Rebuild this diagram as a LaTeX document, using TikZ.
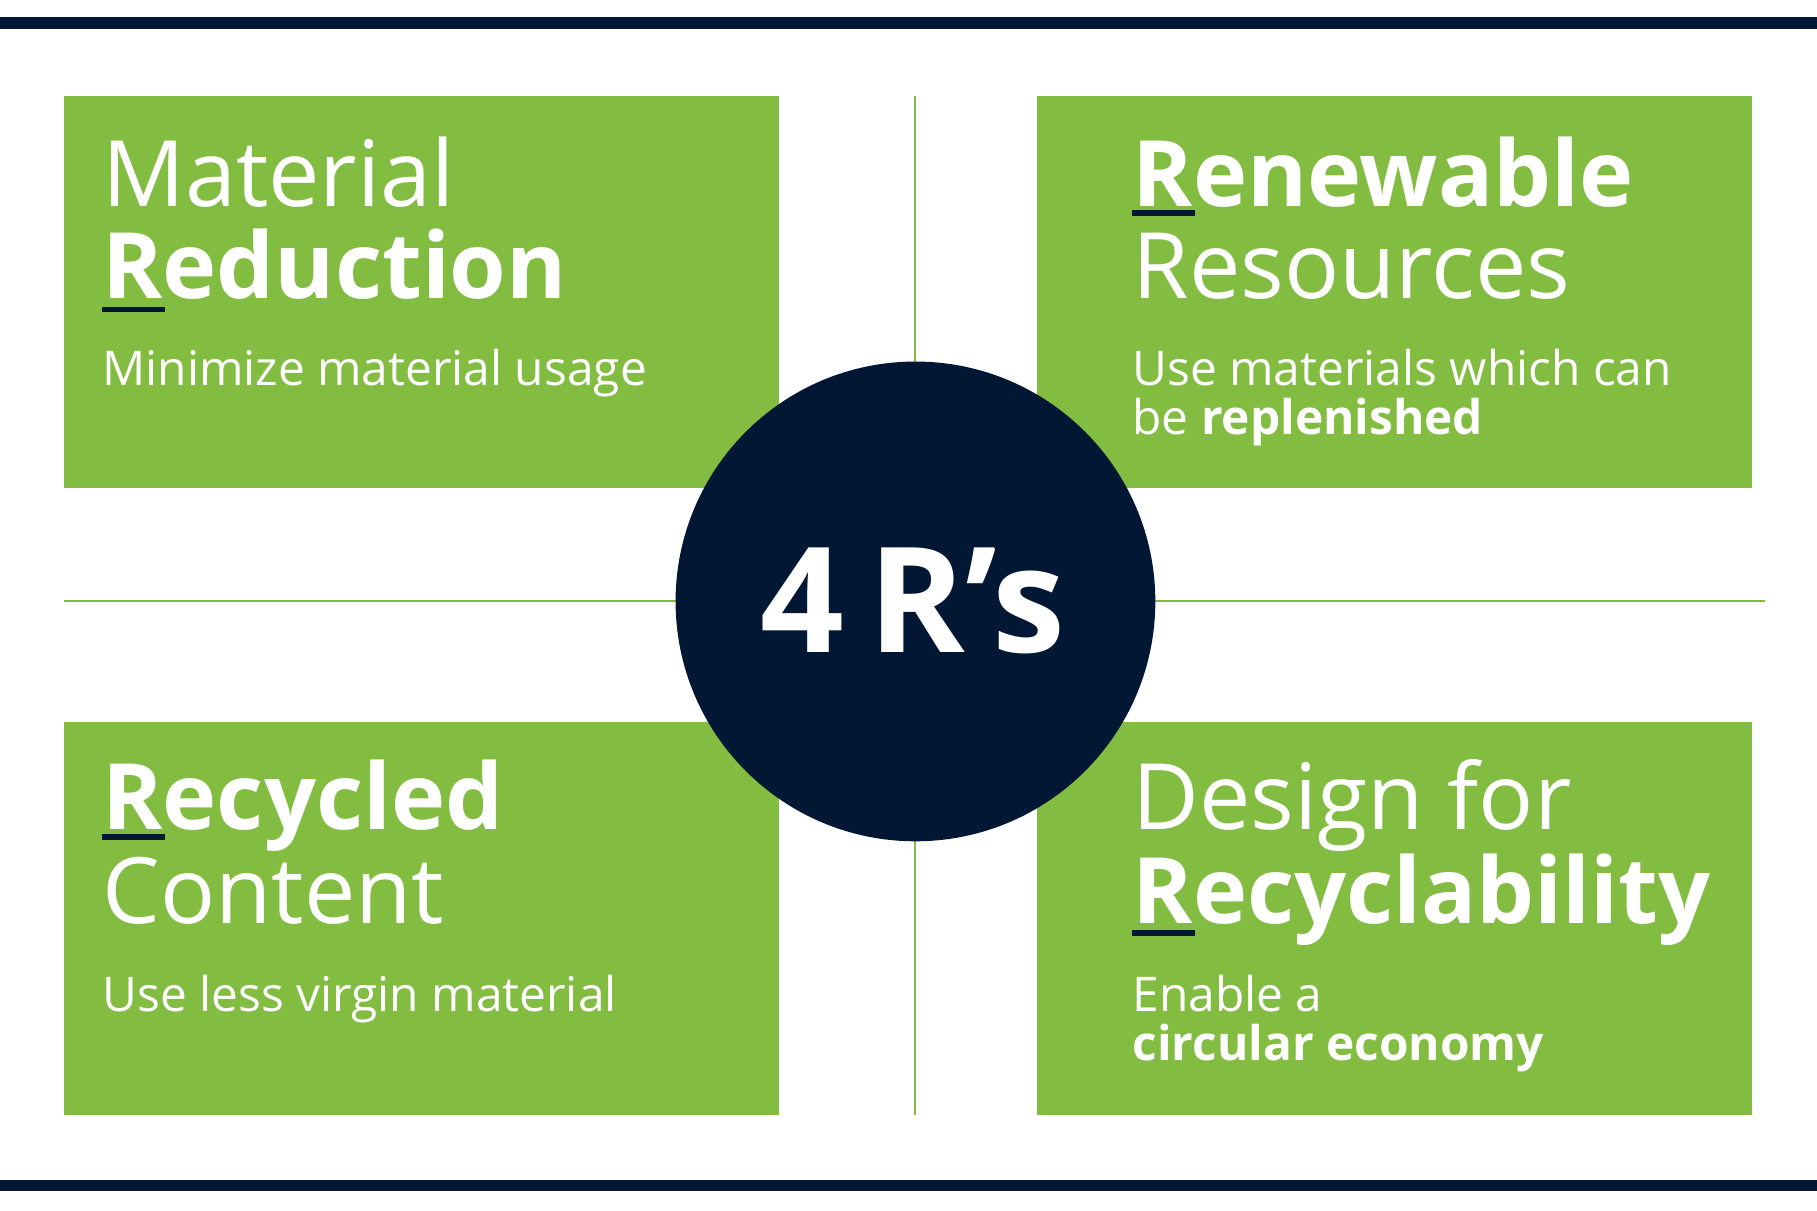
\documentclass[tikz,border=0pt]{standalone}
\usepackage{fontspec}
\setmainfont{Open Sans}
\definecolor{navy}{HTML}{021733}
\definecolor{grn}{HTML}{82BC41}
\begin{document}
\begin{tikzpicture}[x=0.02cm,y=-0.02cm,
  box/.style={fill=grn},
  big/.style={anchor=base west,text=white,inner sep=0,font=\fontsize{45}{45}\selectfont},
  bigb/.style={anchor=base west,text=white,inner sep=0,font=\bfseries\fontsize{45}{45}\selectfont},
  body/.style={anchor=base west,text=white,inner sep=0,font=\fontsize{23.5}{23.5}\selectfont},
  uline/.style={navy,line width=5*0.567pt},
  thin/.style={grn,line width=1pt}]
\useasboundingbox (0,0) rectangle (1568,1045);
\fill[navy] (0,15) rectangle (1568,25);
\fill[navy] (0,1018) rectangle (1568,1028);
\draw[thin] (790,83) -- (790,962);
\draw[thin] (55,519) -- (1523,519);
\fill[box] (55,83) rectangle (672,421);
\fill[box] (895,83) rectangle (1512,421);
\fill[box] (55,623) rectangle (672,962);
\fill[box] (895,623) rectangle (1512,962);
\node[circle,fill=navy,minimum size=414*0.02cm,inner sep=0] (c) at (790,519) {};
\node[anchor=base,text=white,inner sep=0,font=\bfseries\fontsize{72}{72}\selectfont] (t) at (788,563) {4\,R’s};
% TL
\node[big] (a1) at (88,178) {Material};
\node[bigb] (a2) at (88,258) {Reduction};
\node[body] (a3) at (88,333) {Minimize material usage};
\draw[uline] (88,267) -- (142,267);
% TR
\node[bigb] (b1) at (977,178) {Renewable};
\node[big] (b2) at (977,258) {Resources};
\node[body] (b3) at (977,333) {Use materials which can};
\node[body] (b4) at (977,375) {be \textbf{replenished}};
\draw[uline] (977,184) -- (1031,184);
% BL
\node[bigb] (c1) at (88,716) {Recycled};
\node[big] (c2) at (88,797) {Content};
\node[body] (c3) at (88,873) {Use less virgin material};
\draw[uline] (88,722) -- (142,722);
% BR
\node[big] (d1) at (977,716) {Design for};
\node[bigb] (d2) at (977,797) {Recyclability};
\node[body] (d3) at (977,873) {Enable a};
\node[body] (d4) at (977,915) {\textbf{circular economy}};
\draw[uline] (977,805) -- (1031,805);
\end{tikzpicture}
\end{document}
